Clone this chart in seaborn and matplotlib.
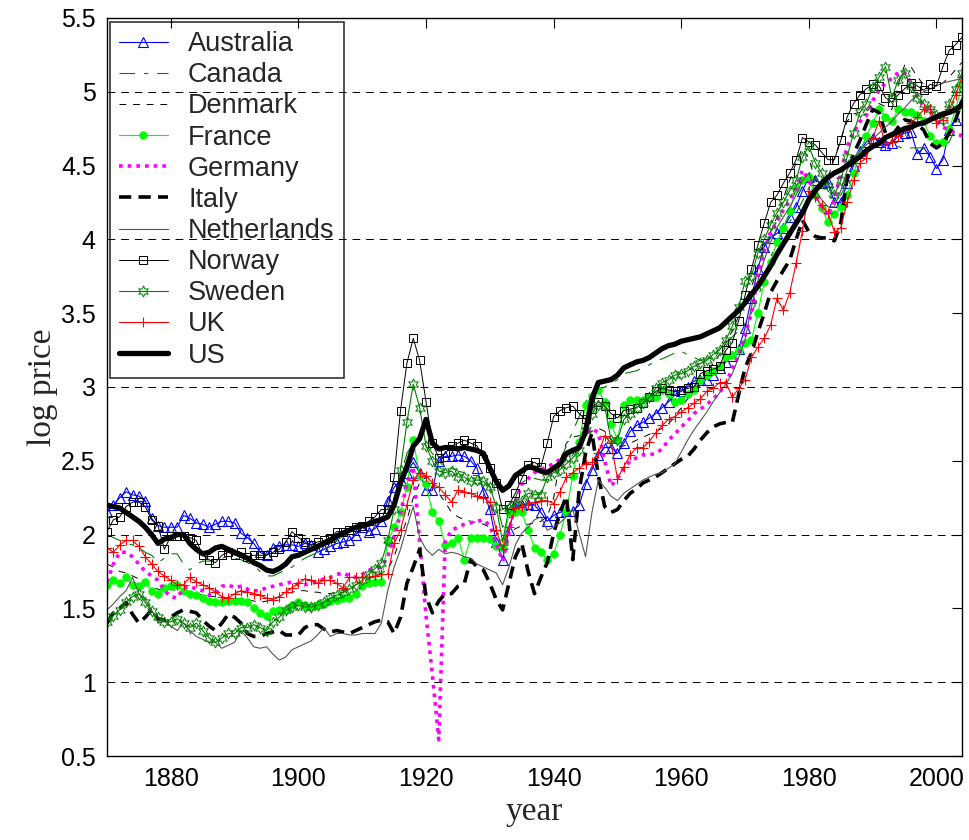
import matplotlib
matplotlib.use("Agg")
import matplotlib.pyplot as plt
import seaborn as sns
from matplotlib.ticker import MultipleLocator, FuncFormatter

years = list(range(1870, 2005))

australia = [
    2.15, 2.20, 2.25, 2.29, 2.27, 2.26, 2.23, 2.11, 2.06, 2.05,
    2.05, 2.05, 2.13, 2.11, 2.08, 2.07, 2.05, 2.07, 2.09, 2.09,
    2.08, 2.01, 1.98, 1.94, 1.88, 1.86, 1.91, 1.92, 1.93, 1.93,
    1.92, 1.94, 1.93, 1.88, 1.90, 1.92, 1.94, 1.95, 1.96, 2.00,
    2.05, 2.02, 2.04, 2.09, 2.23, 2.32, 2.37, 2.42, 2.49, 2.42,
    2.30, 2.30, 2.50, 2.53, 2.53, 2.54, 2.53, 2.50, 2.45, 2.29,
    2.17, 1.95, 1.83, 2.03, 2.19, 2.20, 2.21, 2.20, 2.15, 2.09,
    2.13, 2.15, 2.16, 2.16, 2.20, 2.34, 2.44, 2.54, 2.59, 2.59,
    2.55, 2.62, 2.70, 2.74, 2.76, 2.79, 2.82, 2.86, 2.90, 2.95,
    2.97, 3.00, 3.04, 3.05, 3.05, 3.08, 3.13, 3.17, 3.21, 3.26,
    3.40, 3.60, 3.80, 3.95, 4.01, 4.04, 4.08, 4.15, 4.22, 4.33,
    4.42, 4.40, 4.38, 4.39, 4.25, 4.25, 4.38, 4.50, 4.60, 4.66,
    4.69, 4.66, 4.64, 4.65, 4.70, 4.72, 4.73, 4.58, 4.62, 4.56,
    4.48, 4.54, 4.74, 4.81, 4.93]

canada = [
    2.00, 1.98, 1.96, 1.94, 1.93, 1.91, 1.88, 1.86, 1.81, 1.84,
    1.87, 1.87, 1.80, 1.76, 1.80, 1.82, 1.82, 1.83, 1.84, 1.85,
    1.84, 1.83, 1.81, 1.79, 1.75, 1.72, 1.72, 1.74, 1.76, 1.78,
    1.81, 1.84, 1.86, 1.88, 1.90, 1.93, 1.96, 1.99, 2.01, 2.03,
    2.05, 2.08, 2.10, 2.12, 2.15, 2.25, 2.40, 2.55, 2.62, 2.66,
    2.60, 2.55, 2.50, 2.45, 2.45, 2.43, 2.42, 2.40, 2.40, 2.38,
    2.33, 2.22, 2.05, 2.10, 2.25, 2.35, 2.38, 2.38, 2.37, 2.37,
    2.40, 2.50, 2.60, 2.70, 2.80, 2.90, 2.95, 2.98, 3.00, 3.02,
    3.05, 3.09, 3.10, 3.11, 3.13, 3.15, 3.18, 3.19, 3.21, 3.23,
    3.24, 3.22, 3.20, 3.18, 3.19, 3.22, 3.26, 3.30, 3.34, 3.38,
    3.43, 3.50, 3.60, 3.74, 3.88, 3.98, 4.06, 4.12, 4.18, 4.26,
    4.35, 4.42, 4.35, 4.30, 4.27, 4.30, 4.38, 4.50, 4.60, 4.70,
    4.70, 4.67, 4.67, 4.64, 4.63, 4.61, 4.62, 4.62, 4.62, 4.63,
    4.62, 4.63, 4.66, 4.76, 4.85]

denmark = [
    1.80, 1.78, 1.75, 1.74, 1.72, 1.70, 1.67, 1.65, 1.63, 1.62,
    1.63, 1.62, 1.61, 1.60, 1.60, 1.59, 1.58, 1.58, 1.57, 1.57,
    1.57, 1.56, 1.56, 1.55, 1.54, 1.55, 1.56, 1.58, 1.60, 1.61,
    1.62, 1.62, 1.61, 1.61, 1.60, 1.60, 1.61, 1.62, 1.64, 1.66,
    1.68, 1.70, 1.72, 1.74, 1.76, 1.85, 1.98, 2.10, 2.25, 2.35,
    2.40, 2.35, 2.28, 2.22, 2.15, 2.12, 2.10, 2.09, 2.08, 2.07,
    2.05, 2.02, 1.97, 2.00, 2.04, 2.06, 2.07, 2.08, 2.09, 2.12,
    2.25, 2.50, 2.62, 2.66, 2.67, 2.68, 2.70, 2.72, 2.70, 2.64,
    2.60, 2.60, 2.62, 2.64, 2.66, 2.68, 2.70, 2.72, 2.75, 2.80,
    2.86, 2.92, 2.98, 3.04, 3.10, 3.16, 3.22, 3.30, 3.38, 3.48,
    3.58, 3.68, 3.80, 3.95, 4.05, 4.15, 4.28, 4.40, 4.52, 4.62,
    4.55, 4.40, 4.35, 4.42, 4.55, 4.68, 4.80, 4.85, 4.86, 4.87,
    4.90, 4.92, 4.90, 4.88, 5.05, 5.18, 5.17, 5.10, 5.05, 5.02,
    5.03, 5.06, 5.10, 5.15, 5.20]

france = [
    1.66, 1.69, 1.67, 1.71, 1.66, 1.65, 1.68, 1.62, 1.60, 1.64,
    1.65, 1.66, 1.62, 1.60, 1.59, 1.57, 1.55, 1.54, 1.54, 1.55,
    1.55, 1.55, 1.54, 1.50, 1.47, 1.45, 1.48, 1.49, 1.49, 1.52,
    1.54, 1.52, 1.51, 1.52, 1.53, 1.55, 1.56, 1.57, 1.57, 1.60,
    1.65, 1.67, 1.68, 1.68, 1.95, 2.05, 2.15, 2.32, 2.64, 2.40,
    2.34, 2.15, 2.09, 1.93, 1.94, 1.98, 1.83, 1.98, 1.98, 1.98,
    1.97, 1.92, 1.91, 2.15, 2.15, 2.15, 2.03, 1.91, 1.88, 1.83,
    1.87, 2.00, 2.16, 2.40, 2.63, 2.88, 2.94, 2.98, 2.90, 2.75,
    2.64, 2.88, 2.91, 2.91, 2.91, 2.93, 2.93, 2.98, 2.95, 2.90,
    2.91, 2.95, 2.98, 3.05, 3.08, 3.11, 3.14, 3.20, 3.22, 3.25,
    3.30, 3.32, 3.50, 3.71, 3.85, 3.98, 4.08, 4.19, 4.35, 4.40,
    4.42, 4.30, 4.21, 4.12, 4.17, 4.22, 4.30, 4.45, 4.58, 4.70,
    4.79, 4.88, 4.83, 4.80, 4.88, 4.86, 4.86, 4.84, 4.80, 4.70,
    4.65, 4.66, 4.75, 4.88, 5.05]

germany = [
    1.68, 1.80, 1.88, 1.88, 1.85, 1.80, 1.75, 1.72, 1.69, 1.62,
    1.58, 1.57, 1.64, 1.65, 1.63, 1.62, 1.59, 1.60, 1.65, 1.66,
    1.64, 1.65, 1.63, 1.62, 1.62, 1.64, 1.65, 1.66, 1.67, 1.68,
    1.66, 1.66, 1.67, 1.68, 1.70, 1.71, 1.73, 1.74, 1.72, 1.71,
    1.73, 1.76, 1.77, 1.78, 1.85, 1.99, 2.14, 2.35, 2.46, 1.95,
    1.45, 1.05, 0.61, 1.95, 2.03, 2.05, 2.07, 2.08, 2.09, 2.10,
    2.06, 1.94, 1.82, 2.01, 2.22, 2.34, 2.38, 2.42, 2.44, 2.46,
    2.48, 2.51, 2.54, 2.58, 2.61, 2.68, 2.72, 2.69, 2.50, 2.33,
    2.38, 2.45, 2.50, 2.52, 2.54, 2.54, 2.55, 2.58, 2.64, 2.68,
    2.73, 2.77, 2.82, 2.85, 2.88, 2.92, 2.96, 3.03, 3.12, 3.22,
    3.35, 3.50, 3.75, 3.92, 4.05, 4.12, 4.20, 4.26, 4.35, 4.47,
    4.40, 4.30, 4.22, 4.16, 4.27, 4.45, 4.63, 4.72, 4.80, 4.84,
    4.94, 5.01, 5.06, 5.09, 5.13, 5.13, 5.06, 4.96, 4.90, 4.84,
    4.80, 4.76, 4.74, 4.72, 4.70]

italy = [
    1.40, 1.47, 1.50, 1.54, 1.46, 1.40, 1.44, 1.49, 1.43, 1.42,
    1.44, 1.47, 1.49, 1.48, 1.47, 1.42, 1.38, 1.35, 1.40, 1.46,
    1.44, 1.40, 1.33, 1.31, 1.31, 1.33, 1.34, 1.35, 1.32, 1.32,
    1.32, 1.37, 1.39, 1.39, 1.36, 1.34, 1.35, 1.34, 1.33, 1.35,
    1.37, 1.39, 1.41, 1.42, 1.41, 1.33, 1.44, 1.67, 1.78, 1.90,
    1.58, 1.47, 1.55, 1.60, 1.60, 1.65, 1.67, 1.83, 1.78, 1.76,
    1.67, 1.56, 1.49, 1.67, 1.85, 1.94, 1.75, 1.60, 1.71, 1.81,
    2.01, 2.15, 2.26, 1.83, 2.30, 2.55, 2.69, 2.40, 2.19, 2.15,
    2.17, 2.23, 2.28, 2.31, 2.35, 2.37, 2.39, 2.42, 2.45, 2.48,
    2.51, 2.53, 2.58, 2.64, 2.69, 2.73, 2.75, 2.76, 2.76, 2.95,
    3.13, 3.23, 3.37, 3.50, 3.64, 3.72, 3.79, 3.86, 4.00, 4.13,
    4.05, 4.02, 4.01, 4.01, 3.99, 4.11, 4.42, 4.58, 4.67, 4.78,
    4.88, 4.86, 4.72, 4.70, 4.76, 4.81, 4.80, 4.78, 4.74, 4.65,
    4.62, 4.65, 4.72, 4.81, 4.94]

netherlands = [
    1.49, 1.53, 1.58, 1.62, 1.71, 1.60, 1.56, 1.49, 1.40, 1.41,
    1.38, 1.35, 1.40, 1.35, 1.31, 1.29, 1.27, 1.27, 1.23, 1.25,
    1.27, 1.35, 1.30, 1.24, 1.23, 1.24, 1.19, 1.15, 1.17, 1.22,
    1.24, 1.26, 1.28, 1.32, 1.37, 1.31, 1.33, 1.33, 1.32, 1.32,
    1.33, 1.33, 1.33, 1.40, 1.62, 1.78, 1.90, 2.05, 2.19, 1.98,
    1.90, 1.86, 1.90, 1.87, 1.88, 1.87, 1.85, 1.84, 1.80, 1.78,
    1.76, 1.74, 1.66, 1.78, 1.93, 2.01, 2.05, 2.10, 2.12, 2.03,
    2.05, 2.08, 2.12, 2.17, 2.01, 1.85, 2.15, 2.37, 2.32, 2.26,
    2.23, 2.28, 2.31, 2.34, 2.37, 2.39, 2.41, 2.42, 2.45, 2.48,
    2.56, 2.64, 2.71, 2.77, 2.83, 2.90, 2.96, 3.02, 3.09, 3.20,
    3.32, 3.54, 3.72, 3.86, 3.98, 4.08, 4.15, 4.22, 4.30, 4.40,
    4.45, 4.33, 4.27, 4.22, 4.22, 4.33, 4.47, 4.55, 4.60, 4.64,
    4.68, 4.72, 4.76, 4.80, 4.85, 4.89, 4.94, 4.98, 5.00, 5.02,
    5.04, 5.06, 5.07, 5.08, 5.09]

norway = [
    2.02, 2.10, 2.12, 2.19, 2.22, 2.22, 2.19, 2.10, 2.06, 1.90,
    1.99, 1.99, 1.99, 1.98, 1.96, 1.86, 1.83, 1.81, 1.86, 1.88,
    1.86, 1.88, 1.85, 1.86, 1.86, 1.86, 1.88, 1.90, 1.95, 2.02,
    1.98, 1.95, 1.93, 1.95, 1.96, 1.98, 2.02, 2.02, 2.03, 2.05,
    2.06, 2.09, 2.12, 2.17, 2.17, 2.39, 2.84, 3.16, 3.33, 3.18,
    2.90, 2.62, 2.52, 2.55, 2.60, 2.62, 2.64, 2.62, 2.60, 2.51,
    2.45, 2.35, 2.17, 2.20, 2.28, 2.38, 2.47, 2.49, 2.46, 2.62,
    2.80, 2.84, 2.86, 2.87, 2.82, 2.78, 2.85, 2.90, 2.87, 2.82,
    2.79, 2.84, 2.85, 2.86, 2.89, 2.93, 2.97, 2.99, 2.98, 2.97,
    2.98, 2.99, 3.00, 3.09, 3.11, 3.12, 3.14, 3.25, 3.30, 3.45,
    3.62, 3.80, 3.96, 4.11, 4.25, 4.30, 4.38, 4.45, 4.54, 4.69,
    4.66, 4.64, 4.59, 4.54, 4.54, 4.67, 4.83, 4.92, 4.98, 5.02,
    5.05, 5.04, 4.96, 4.93, 4.98, 5.02, 5.06, 5.04, 5.01, 5.05,
    5.04, 5.17, 5.28, 5.32, 5.37]

sweden = [
    1.41, 1.45, 1.49, 1.54, 1.58, 1.60, 1.54, 1.48, 1.44, 1.41,
    1.41, 1.43, 1.40, 1.37, 1.40, 1.35, 1.30, 1.27, 1.30, 1.33,
    1.33, 1.37, 1.37, 1.39, 1.37, 1.35, 1.41, 1.44, 1.49, 1.51,
    1.52, 1.51, 1.51, 1.52, 1.54, 1.57, 1.59, 1.61, 1.63, 1.66,
    1.69, 1.73, 1.77, 1.81, 1.96, 2.17, 2.44, 2.76, 3.02, 2.86,
    2.60, 2.50, 2.43, 2.42, 2.43, 2.39, 2.39, 2.36, 2.37, 2.36,
    2.32, 2.19, 1.95, 2.18, 2.21, 2.23, 2.28, 2.27, 2.27, 2.39,
    2.42, 2.44, 2.48, 2.52, 2.57, 2.71, 2.82, 2.88, 2.87, 2.64,
    2.64, 2.78, 2.82, 2.86, 2.89, 2.93, 2.99, 3.03, 3.05, 3.08,
    3.09, 3.11, 3.14, 3.16, 3.18, 3.22, 3.25, 3.32, 3.41, 3.54,
    3.72, 3.75, 3.91, 4.00, 4.10, 4.18, 4.25, 4.33, 4.40, 4.56,
    4.63, 4.52, 4.45, 4.36, 4.30, 4.40, 4.56, 4.72, 4.86, 4.92,
    5.03, 5.10, 5.17, 4.96, 5.08, 5.13, 5.04, 4.96, 4.92, 4.88,
    4.84, 4.81, 4.92, 5.02, 5.13]

uk = [
    1.91, 1.88, 1.93, 1.96, 1.96, 1.92, 1.85, 1.80, 1.75, 1.72,
    1.69, 1.66, 1.66, 1.71, 1.68, 1.66, 1.64, 1.61, 1.58, 1.57,
    1.60, 1.62, 1.61, 1.60, 1.59, 1.57, 1.56, 1.58, 1.61, 1.64,
    1.67, 1.70, 1.69, 1.67, 1.69, 1.69, 1.67, 1.64, 1.71, 1.71,
    1.71, 1.71, 1.72, 1.73, 1.73, 1.94, 2.03, 2.20, 2.37, 2.42,
    2.40, 2.35, 2.32, 2.27, 2.22, 2.30, 2.29, 2.28, 2.26, 2.25,
    2.22, 2.03, 1.90, 2.05, 2.18, 2.19, 2.20, 2.22, 2.23, 2.23,
    2.21, 2.29, 2.39, 2.42, 2.45, 2.48, 2.49, 2.55, 2.67, 2.62,
    2.38, 2.46, 2.54, 2.59, 2.59, 2.63, 2.69, 2.74, 2.78, 2.80,
    2.83, 2.86, 2.89, 2.92, 2.97, 2.99, 3.03, 3.03, 2.93, 2.99,
    3.05, 3.20, 3.27, 3.33, 3.42, 3.60, 3.52, 3.64, 3.84, 4.06,
    4.33, 4.29, 4.23, 4.18, 4.05, 4.08, 4.25, 4.40, 4.52, 4.55,
    4.69, 4.80, 4.64, 4.66, 4.70, 4.74, 4.79, 4.83, 4.88, 4.88,
    4.79, 4.81, 4.88, 4.98, 5.10]

us = [
    2.20, 2.19, 2.18, 2.15, 2.12, 2.09, 2.05, 2.00, 1.94, 1.97,
    1.98, 2.00, 2.00, 1.94, 1.90, 1.87, 1.88, 1.91, 1.92, 1.90,
    1.88, 1.86, 1.84, 1.81, 1.79, 1.76, 1.75, 1.77, 1.80, 1.85,
    1.86, 1.88, 1.90, 1.92, 1.94, 1.96, 1.99, 2.01, 2.03, 2.05,
    2.06, 2.07, 2.09, 2.10, 2.12, 2.20, 2.35, 2.46, 2.60, 2.65,
    2.78, 2.62, 2.58, 2.59, 2.59, 2.58, 2.59, 2.58, 2.57, 2.55,
    2.45, 2.36, 2.30, 2.33, 2.40, 2.43, 2.46, 2.45, 2.43, 2.42,
    2.45, 2.48, 2.55, 2.57, 2.59, 2.70, 2.92, 3.03, 3.04, 3.05,
    3.08, 3.13, 3.15, 3.17, 3.18, 3.20, 3.23, 3.26, 3.28, 3.29,
    3.31, 3.32, 3.33, 3.34, 3.36, 3.38, 3.40, 3.44, 3.48, 3.52,
    3.57, 3.63, 3.68, 3.75, 3.82, 3.90, 3.97, 4.04, 4.11, 4.18,
    4.27, 4.33, 4.38, 4.42, 4.45, 4.47, 4.50, 4.53, 4.56, 4.60,
    4.63, 4.65, 4.69, 4.71, 4.73, 4.75, 4.76, 4.78, 4.79, 4.81,
    4.83, 4.85, 4.86, 4.88, 4.91]

country_names = ["Australia", "Canada", "Denmark", "France", "Germany", "Italy",
                 "Netherlands", "Norway", "Sweden", "UK", "US"]
country_values = [australia, canada, denmark, france, germany, italy,
                  netherlands, norway, sweden, uk, us]

styles = {
    "Australia": dict(color="#0000FF", linestyle="-", linewidth=0.8, marker="^",
                      markersize=7, markerfacecolor="none", markeredgecolor="#0000FF",
                      markeredgewidth=0.8),
    "Canada": dict(color="#008000", linestyle=(0, (14, 8, 4, 8)), linewidth=0.8),
    "Denmark": dict(color="black", linestyle=(0, (7, 7)), linewidth=0.7),
    "France": dict(color="#00FF00", linestyle="-", linewidth=0.8, marker="o",
                   markersize=5.5, markerfacecolor="#00FF00", markeredgecolor="#00FF00",
                   markeredgewidth=0.5),
    "Germany": dict(color="#FF00FF", linestyle=(0, (1, 1.4)), linewidth=2.6),
    "Italy": dict(color="black", linestyle=(0, (3.4, 2.0)), linewidth=2.6),
    "Netherlands": dict(color="#555555", linestyle="-", linewidth=0.8),
    "Norway": dict(color="black", linestyle="-", linewidth=0.7, marker="s",
                   markersize=6, markerfacecolor="none", markeredgecolor="black",
                   markeredgewidth=0.7),
    "Sweden": dict(color="#008000", linestyle="-", linewidth=0.8, marker=(6, 1, 0),
                   markersize=8, markerfacecolor="none", markeredgecolor="#008000",
                   markeredgewidth=0.7),
    "UK": dict(color="#FF0000", linestyle="-", linewidth=0.8, marker="+",
               markersize=7, markerfacecolor="none", markeredgecolor="#FF0000",
               markeredgewidth=0.8),
    "US": dict(color="black", linestyle="-", linewidth=3.8),
}

sns.set_style("white")
plt.rcParams["font.family"] = ["Liberation Sans", "DejaVu Sans"]

fig = plt.figure(figsize=(9.69, 8.40), dpi=100)
ax = fig.add_axes([0.1104, 0.100, 0.8824, 0.8786])

for name, vals in zip(country_names, country_values):
    sns.lineplot(x=years, y=vals, ax=ax, label=name, sort=False, **styles[name])

ax.set_xlim(1870, 2004)
ax.set_ylim(0.5, 5.5)
ax.xaxis.set_major_locator(MultipleLocator(20))
ax.yaxis.set_major_locator(MultipleLocator(0.5))
ax.yaxis.set_major_formatter(FuncFormatter(lambda v, p: "%g" % v))
ax.yaxis.set_minor_locator(MultipleLocator(1))
ax.yaxis.remove_overlapping_locs = False
ax.tick_params(which="major", direction="in", length=7, width=0.8,
               top=True, right=True, labelsize=18, colors="black", pad=8)
ax.tick_params(which="minor", length=0)
ax.grid(False)
ax.grid(which="minor", axis="y", color="black", linestyle=(0, (8, 6)), linewidth=0.7)
for s in ax.spines.values():
    s.set_color("black")
    s.set_linewidth(1.0)

ax.set_xlabel("year", family="Liberation Serif", fontsize=24, labelpad=4)
ax.set_ylabel("log price", family="Liberation Serif", fontsize=24, labelpad=2)

handles, labels = ax.get_legend_handles_labels()
leg = ax.legend(handles, labels, loc="upper left", bbox_to_anchor=(0.003, 0.995),
                fontsize=19.5, frameon=True, fancybox=False, numpoints=1,
                borderpad=0.35, labelspacing=0.19, handlelength=1.8,
                handletextpad=0.75, borderaxespad=0.0)
leg.get_frame().set_edgecolor("black")
leg.get_frame().set_linewidth(1.2)
leg.get_frame().set_facecolor("none")

fig.savefig("out.png", dpi=100)
